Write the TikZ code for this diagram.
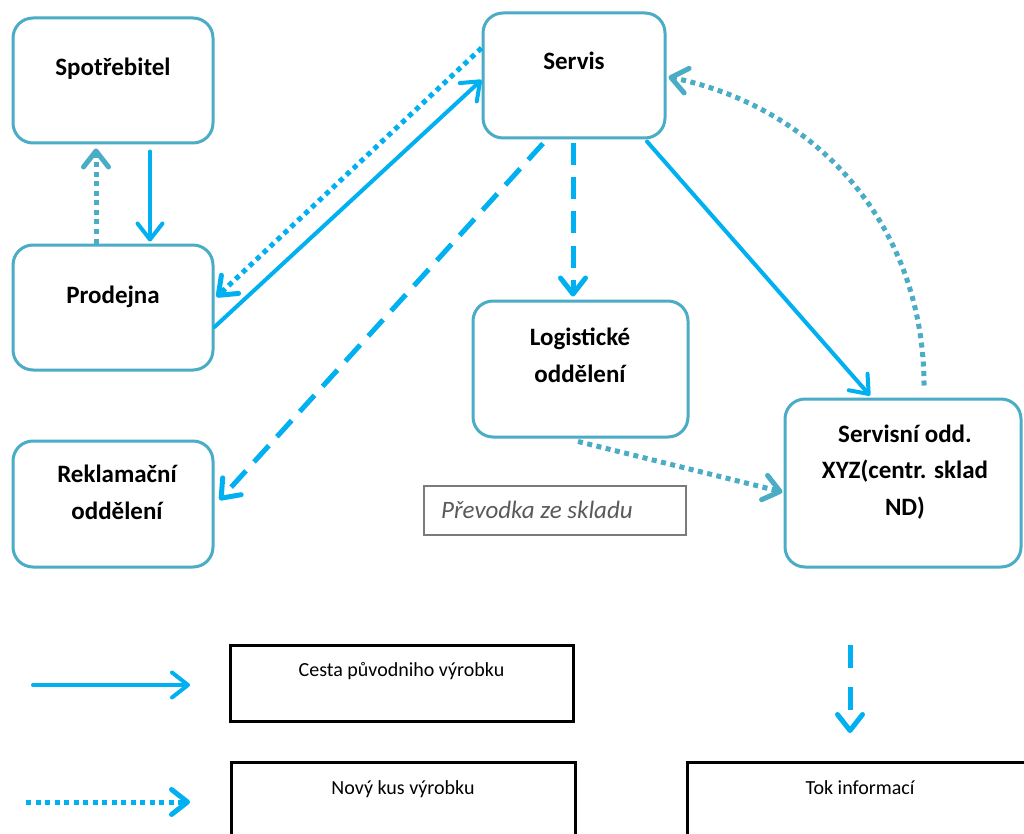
\documentclass[tikz,border=0pt]{standalone}
\usepackage{fontspec}
\setmainfont{Carlito}
\usetikzlibrary{arrows.meta}

\definecolor{boxteal}{RGB}{75,172,198}
\definecolor{flowblue}{RGB}{0,176,240}
\definecolor{notegray}{RGB}{90,90,90}

\tikzset{
  unitbox/.style={draw=boxteal, line width=3pt, rounded corners=20pt, inner sep=0pt, fill=white},
  unittext/.style={font=\fontsize{25}{36.5}\selectfont\bfseries, align=center, inner sep=0pt, anchor=base},
  notebox/.style={draw=notegray!80, line width=1.5pt, inner sep=0pt},
  notetext/.style={font=\fontsize{25}{30}\selectfont\itshape, text=notegray, inner sep=0pt, anchor=base west},
  legendbox/.style={draw=black, line width=3pt, inner sep=0pt},
  legendtext/.style={font=\fontsize{20}{24}\selectfont, inner sep=0pt, anchor=base},
  barb/.style={-{Straight Barb[round,length=16pt,width=25pt]}},
  productpath/.style={barb, draw=flowblue, line width=4pt, line cap=round},
  newpiece/.style={barb, draw=flowblue, line width=5pt, dash pattern=on 5pt off 4.5pt},
  newpieceteal/.style={barb, draw=boxteal, line width=5pt, dash pattern=on 5pt off 4.5pt},
  infoflow/.style={barb, draw=flowblue, line width=5pt, dash pattern=on 22pt off 12pt},
}

\begin{document}
\begin{tikzpicture}[x=1pt, y=-1pt]
  \clip (0,0) rectangle (1024,834);
  \fill[white] (0,0) rectangle (1024,834);

  % organisational units
  \node[unitbox, minimum width=200pt, minimum height=125pt] (spot) at (113,80.5) {};
  \node[unitbox, minimum width=200pt, minimum height=125pt] (prod) at (113,307.5) {};
  \node[unitbox, minimum width=182pt, minimum height=125pt] (serv) at (574,75.5) {};
  \node[unitbox, minimum width=215pt, minimum height=136pt] (logi) at (580.5,369) {};
  \node[unitbox, minimum width=200pt, minimum height=126pt] (rekl) at (113,504) {};
  \node[unitbox, minimum width=236pt, minimum height=168pt] (sxyz) at (903,483) {};

  % labels; the base anchor of a multi-line label is its last line
  \node[unittext] (spot-t) at (113,76) {Spotřebitel};
  \node[unittext] (prod-t) at (113,303) {Prodejna};
  \node[unittext] (serv-t) at (574,70) {Servis};
  \node[unittext] (logi-t) at (580,382) {Logistické\\oddělení};
  \node[unittext] (rekl-t) at (117,519) {Reklamační\\oddělení};
  \node[unittext] (sxyz-t) at (905,515) {Servisní odd.\\XYZ(centr. sklad\\ND)};

  % transfer note
  \node[notebox, minimum width=262pt, minimum height=49pt] (prev) at (555,510.5) {};
  \node[notetext] (prev-t) at (441,518) {Převodka ze skladu};

  % flows between units
  \draw[productpath] ([xshift=37pt,yshift=-7pt]spot.south) -- ([xshift=37pt,yshift=2pt]prod.north);
  \draw[newpieceteal] ([xshift=-17pt]prod.north) -- ([xshift=-17pt,yshift=-4pt]spot.south);
  \draw[productpath] ([yshift=-19.5pt]prod.east) -- ([yshift=-4.5pt]serv.west);
  \draw[newpiece] ([yshift=27.5pt]serv.west) -- ([xshift=2pt,yshift=10.5pt]prod.east);
  \draw[infoflow] ([xshift=-31pt,yshift=-4pt]serv.south) -- ([xshift=5pt,yshift=4pt]rekl.east);
  \draw[infoflow] ([xshift=-1pt,yshift=-4pt]serv.south) -- ([xshift=-7.5pt,yshift=3pt]logi.north);
  \draw[productpath] ([xshift=73pt,yshift=-2pt]serv.south) -- ([xshift=-33pt,yshift=2pt]sxyz.north);
  \draw[newpieceteal] ([xshift=21pt,yshift=12pt]sxyz.north)
      .. controls +(0,-160) and +(148,30) .. ([xshift=2pt,yshift=-1.5pt]serv.east);
  \draw[newpieceteal] ([xshift=-2.5pt,yshift=-3pt]logi.south) -- ([xshift=-1pt,yshift=-9pt]sxyz.west);

  % legend
  \node[legendbox, minimum width=343pt, minimum height=76pt] (leg1) at (401.5,683) {};
  \node[legendbox, minimum width=344pt, minimum height=108pt] (leg2) at (403,816) {};
  \node[legendbox, minimum width=343pt, minimum height=108pt] (leg3) at (858.5,816) {};
  \node[legendtext] (leg1-t) at (401.5,676) {Cesta původniho výrobku};
  \node[legendtext] (leg2-t) at (403,794) {Nový kus výrobku};
  \node[legendtext] (leg3-t) at (860,794) {Tok informací};

  \coordinate (k1a) at (33,685);
  \coordinate (k1b) at (190,685);
  \coordinate (k2a) at (26,802);
  \coordinate (k2b) at (190,802);
  \coordinate (k3a) at (850,645);
  \coordinate (k3b) at (850,733);
  \draw[productpath] (k1a) -- (k1b);
  \draw[newpiece] (k2a) -- (k2b);
  \draw[infoflow, dash pattern=on 23pt off 19pt] (k3a) -- (k3b);
\end{tikzpicture}
\end{document}
